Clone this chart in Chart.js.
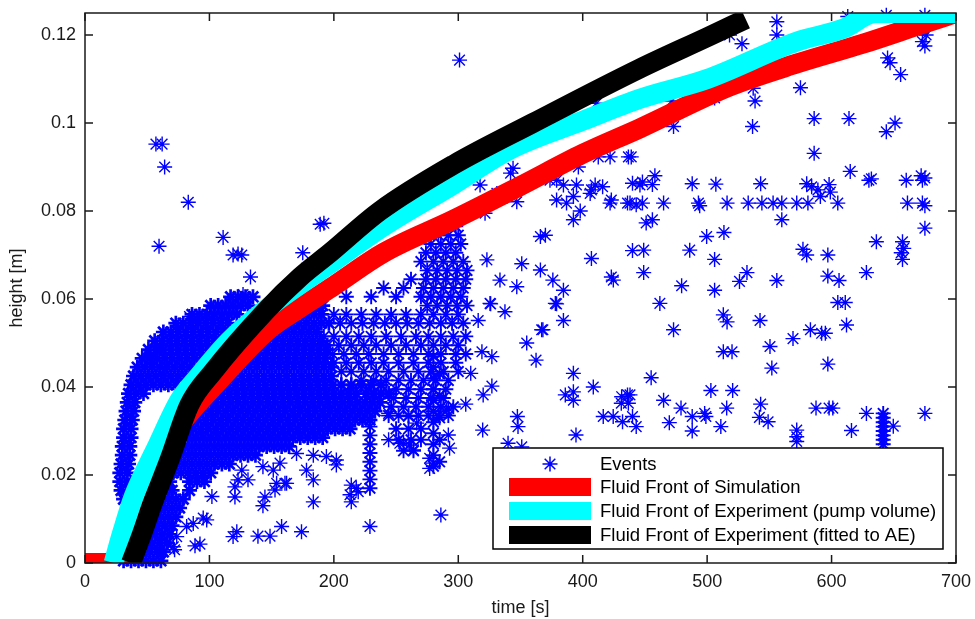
<!DOCTYPE html>
<html>
<head>
<meta charset="utf-8">
<title>Fluid front and events</title>
<script src="https://cdn.jsdelivr.net/npm/chart.js@4.4.1/dist/chart.umd.min.js"></script>
<style>
    html, body { margin: 0; padding: 0; background: #fff; }
    #plot { display: block; }
</style>
</head>
<body>
<canvas id="plot" width="975" height="619"></canvas>
<script>
"use strict";

var xTicks = [0, 100, 200, 300, 400, 500, 600, 700];
var yTicks = [0, 0.02, 0.04, 0.06, 0.08, 0.1, 0.12];
var yTickLabels = ['0', '0.02', '0.04', '0.06', '0.08', '0.1', '0.12'];

var seriesNames = [
    'Events',
    'Fluid Front of Simulation',
    'Fluid Front of Experiment (pump volume)',
    'Fluid Front of Experiment (fitted to AE)'
];

// fluid fronts: time [s] / height [m]
var simTime    = [0, 25, 35, 50, 70, 90, 103, 146, 173, 200, 240, 296, 350, 400, 446, 518, 572, 625, 673, 700];
var simHeight  = [0, 0, 0.008, 0.019, 0.029, 0.036, 0.040, 0.0527, 0.058, 0.063, 0.0705, 0.078, 0.0857, 0.093, 0.0988, 0.1083, 0.1135, 0.118, 0.1225, 0.125];
var pumpTime   = [23, 30, 39, 58, 76, 90, 116, 146, 197, 240, 296, 342, 400, 446, 500, 572, 610, 635, 700];
var pumpHeight = [0, 0.007, 0.015, 0.0265, 0.037, 0.042, 0.0505, 0.0578, 0.068, 0.0765, 0.086, 0.094, 0.1005, 0.1055, 0.110, 0.1185, 0.1215, 0.125, 0.125];
var aeTime     = [37, 45, 55, 68, 84, 103, 146, 173, 197, 237, 296, 360, 446, 500, 531];
var aeHeight   = [0, 0.006, 0.014, 0.0235, 0.036, 0.0435, 0.0575, 0.065, 0.0705, 0.080, 0.0905, 0.100, 0.1124, 0.1195, 0.1236];

// AE events, dense part: [height, times...]
var coreRows = [
    [0.0005, 31, 37, 43, 49, 55, 61],
    [0.0025, 33, 46, 52, 58, 63],
    [0.0045, 48, 54, 60, 66],
    [0.0065, 50, 56, 62, 68],
    [0.0085, 52, 58, 64, 70],
    [0.0105, 55, 61, 67, 73],
    [0.0125, 58, 64, 70, 76],
    [0.0145, 31, 61, 67, 73, 79],
    [0.0165, 29, 35, 64, 70, 84],
    [0.0185, 28, 34, 68, 84, 90, 96],
    [0.0205, 28, 34, 71, 77, 83, 89, 95, 101],
    [0.0225, 29, 35, 74, 80, 86, 92, 98, 104, 110, 116],
    [0.0245, 30, 36, 77, 83, 89, 95, 101, 107, 113, 119, 125, 131, 137],
    [0.0265, 30, 36, 80, 86, 92, 98, 104, 110, 116, 122, 128, 134, 140, 146, 152, 158, 164],
    [0.0285, 31, 37, 83, 89, 95, 101, 107, 113, 119, 125, 131, 137, 143, 149, 155, 161, 167, 173, 179, 185, 191],
    [0.0305, 31, 37, 87, 93, 99, 105, 111, 117, 123, 129, 135, 141, 147, 153, 159, 165, 171, 177, 183, 189, 195, 201, 207, 213],
    [0.0325, 32, 38, 91, 97, 103, 109, 115, 121, 127, 133, 139, 145, 151, 157, 163, 169, 175, 181, 187, 193, 199, 205, 211, 217, 223, 229],
    [0.0345, 33, 39, 95, 101, 107, 113, 119, 125, 131, 137, 143, 149, 155, 161, 167, 173, 179, 185, 191, 197, 203, 209, 215, 221, 227, 233],
    [0.0365, 34, 40, 99, 105, 111, 117, 123, 129, 135, 141, 147, 153, 159, 165, 171, 177, 183, 189, 195, 201, 207, 213, 219, 225, 231, 237],
    [0.0385, 35, 41, 47, 104, 110, 116, 122, 128, 134, 140, 146, 152, 158, 164, 170, 176, 182, 188, 194, 200, 206, 212, 218, 226, 232, 238, 244],
    [0.0405, 37, 43, 49, 55, 61, 67, 73, 109, 115, 121, 127, 133, 139, 145, 151, 157, 163, 169, 175, 181, 187, 193, 199, 206, 214, 222, 230, 238],
    [0.0425, 39, 45, 51, 57, 63, 69, 75, 81, 114, 120, 126, 132, 138, 144, 150, 156, 162, 168, 174, 180, 186, 192, 198],
    [0.0445, 42, 48, 54, 60, 66, 72, 78, 84, 120, 126, 132, 138, 144, 150, 156, 162, 168, 174, 180, 186, 192, 198],
    [0.0465, 46, 52, 58, 64, 70, 76, 82, 88, 94, 127, 133, 139, 145, 151, 157, 163, 169, 175, 181, 187, 193],
    [0.0485, 51, 57, 63, 69, 75, 81, 87, 93, 99, 134, 140, 146, 152, 158, 164, 170, 176, 182, 188, 194],
    [0.0505, 56, 62, 68, 74, 80, 86, 92, 98, 104, 141, 147, 153, 159, 165, 171, 177, 183, 189],
    [0.0525, 63, 69, 75, 81, 87, 93, 99, 105, 111, 150, 156, 162, 168, 174, 180, 186],
    [0.0545, 73, 79, 85, 91, 97, 103, 109, 115, 160, 166, 172, 178, 184, 190, 196],
    [0.0565, 86, 92, 98, 104, 110, 116, 122, 172, 178, 184, 190],
    [0.0585, 101, 107, 113, 119, 125, 131, 185, 191],
    [0.0605, 117, 123, 129, 135]
];

// looser part of the cloud between 200 s and 310 s: [height, times...]
var midRows = [
    [0.0255, 256, 264],
    [0.0280, 252, 262, 270],
    [0.0305, 250, 260, 270],
    [0.0335, 244, 252, 260, 268, 276, 284, 292],
    [0.0355, 246, 256, 266, 276, 286, 296],
    [0.0375, 248, 258, 268, 278, 288],
    [0.0395, 250, 260, 270, 280, 290],
    [0.0415, 222, 232, 242, 252, 262, 272, 282, 292],
    [0.0435, 206, 214, 224, 234, 244, 256, 268, 278, 288, 300],
    [0.0455, 200, 210, 220, 230, 240, 252, 264, 276, 286, 298],
    [0.0475, 199, 208, 218, 228, 240, 252, 264, 276, 286, 298, 306],
    [0.0495, 195, 204, 214, 224, 234, 246, 258, 270, 280, 290, 300],
    [0.0515, 192, 200, 210, 220, 230, 242, 254, 266, 276, 286, 296, 306],
    [0.0545, 205, 214, 223, 232, 241, 250, 259, 268, 277, 286, 295, 304],
    [0.0565, 200, 210, 222, 234, 246, 258, 270, 280, 290, 300],
    [0.0585, 275, 283, 291, 299, 307],
    [0.0605, 210, 230, 250, 270, 278, 286, 294, 302],
    [0.0625, 240, 256, 272, 280, 288, 296, 304],
    [0.0645, 262, 274, 282, 290, 298, 306],
    [0.0665, 275, 283, 291, 299, 307],
    [0.0685, 270, 280, 288, 296, 304],
    [0.0705, 274, 282, 290, 298],
    [0.0725, 278, 286, 294, 302],
    [0.0745, 284, 292, 300],
    [0.0765, 290, 298]
];

// stacked events at one time: [time, heights...]
var columns = [
    [229, 0.017, 0.019, 0.021, 0.023, 0.025, 0.027, 0.029, 0.031],
    [280, 0.022, 0.0245, 0.027, 0.0295, 0.032, 0.0345, 0.037, 0.0395, 0.042, 0.0445, 0.047],
    [285, 0.023, 0.028, 0.033, 0.038, 0.043],
    [641.5, 0.027, 0.028, 0.029, 0.030, 0.031, 0.032, 0.033, 0.034]
];

// single events: [time, height]
var upperLeftEvents = [
    [57, 0.0952], [62, 0.0952], [64, 0.0900], [83, 0.0820], [59.5, 0.0720], [111, 0.0740],
    [119, 0.0700], [123, 0.0702], [126, 0.0700], [189, 0.0770], [192, 0.0772], [175, 0.0705],
    [178, 0.0670], [133, 0.0650], [127, 0.0610], [84, 0.0560], [97, 0.0560], [60, 0.0490],
    [52, 0.0470], [64, 0.0440]
];

var lowEvents = [
    [229, 0.0083], [183.5, 0.0139], [286, 0.0109], [214, 0.0139], [214, 0.0177], [219.6, 0.0162],
    [174, 0.0071], [158, 0.0083], [139, 0.0061], [148.7, 0.0061], [119, 0.0060], [122, 0.0071],
    [88.4, 0.0039], [92.4, 0.0043], [72, 0.0030], [120.5, 0.0150], [120.5, 0.0173], [143, 0.0130],
    [144.6, 0.0150], [152.7, 0.0166], [154, 0.0181], [160.7, 0.0181], [183.5, 0.0189], [178, 0.0211],
    [123, 0.0189], [131, 0.0189], [126, 0.0211], [102, 0.0151], [95, 0.0102], [97.8, 0.0098],
    [81.7, 0.0083], [87, 0.0090], [73.7, 0.0060], [71, 0.0037], [244, 0.0280], [253, 0.0272],
    [261, 0.0268], [277, 0.0238], [280, 0.0227], [277, 0.0215], [244, 0.0340], [260, 0.0333],
    [266.6, 0.0318], [256, 0.0272], [264, 0.0257], [213, 0.0155], [218, 0.0170], [194, 0.0242],
    [202, 0.0234], [202, 0.0223], [170, 0.0249], [183.5, 0.0245], [143, 0.0219], [151.3, 0.0211],
    [156.7, 0.0227], [162, 0.0181]
];

var midEvents = [
    [379, 0.0589], [384.5, 0.0551], [368, 0.0530], [355, 0.0500], [362.5, 0.0461], [326, 0.0589],
    [337.5, 0.0571], [316, 0.0551], [319, 0.0480], [327, 0.0469], [310, 0.0431], [327, 0.0402],
    [320, 0.0382], [306, 0.0361], [292, 0.0352], [392.5, 0.0431], [408.5, 0.0400], [386, 0.0382],
    [392.5, 0.0389], [392.5, 0.0370], [436, 0.0382], [431, 0.0363], [432, 0.0321], [416.5, 0.0333],
    [424.5, 0.0333], [347.5, 0.0333], [348, 0.0310], [319.6, 0.0302], [394.6, 0.0291], [292, 0.0291],
    [293, 0.0261], [340, 0.0272], [351, 0.0264], [323, 0.0689], [351, 0.0680], [333.5, 0.0643],
    [347, 0.0628], [366, 0.0666], [376, 0.0643], [384.5, 0.0620], [407, 0.0692], [423, 0.0650],
    [424.6, 0.0643], [325.5, 0.0590], [367, 0.0530], [378, 0.0590], [290.7, 0.0348], [436.7, 0.0363],
    [431.3, 0.0378], [379, 0.0870], [379, 0.0825], [392.5, 0.0833], [398, 0.0800], [422, 0.0818],
    [436, 0.0818], [407, 0.0848], [416, 0.0855], [370, 0.0745], [366, 0.0742], [392.5, 0.0780],
    [321.5, 0.0795], [347, 0.0821], [331, 0.0840], [339, 0.0833], [411, 0.1045], [412.5, 0.0923],
    [422, 0.0923], [436.7, 0.0923], [396.5, 0.0900], [373.7, 0.0870], [384.5, 0.0859], [395, 0.0859],
    [410, 0.0859], [387, 0.0818], [406, 0.0840], [423, 0.0825], [443, 0.0814], [317.5, 0.0859],
    [344, 0.0897], [342, 0.0886], [301, 0.1143], [440, 0.0710]
];

var rightEvents = [
    [556, 0.1230], [556, 0.1200], [518, 0.1200], [528, 0.1180], [613, 0.1242], [644, 0.1245],
    [675, 0.1245], [674, 0.1215], [676, 0.1200], [673, 0.1185], [675, 0.1175], [645, 0.1148],
    [647, 0.1137], [655.5, 0.1110], [575, 0.1080], [537, 0.1079], [538.5, 0.1050], [506, 0.1057],
    [471.5, 0.1050], [473, 0.0992], [536.5, 0.0992], [586, 0.1010], [614, 0.1010], [644, 0.0980],
    [651, 0.1000], [586, 0.0931], [439, 0.0923], [615, 0.0890], [630, 0.0870], [632, 0.0873],
    [672, 0.0880], [673, 0.0870], [660, 0.0870], [675, 0.0875], [440, 0.0863], [446, 0.0859],
    [448, 0.0866], [456, 0.0860], [458, 0.0880], [488, 0.0862], [507, 0.0861], [543, 0.0862],
    [580, 0.0862], [584, 0.0855], [598, 0.0860], [589, 0.0848], [599, 0.0843], [591, 0.0833],
    [438, 0.0818], [448, 0.0818], [465, 0.0818], [493, 0.0818], [494, 0.0812], [516, 0.0818],
    [533, 0.0818], [544, 0.0818], [553, 0.0818], [560, 0.0818], [572, 0.0818], [581, 0.0818],
    [605, 0.0818], [661, 0.0818], [673, 0.0818], [675, 0.0812], [560, 0.0780], [451, 0.0773],
    [456, 0.0780], [675, 0.0761], [499.6, 0.0742], [513.5, 0.0751], [636, 0.0730], [657, 0.0730],
    [658, 0.0715], [656, 0.0705], [657, 0.0690], [449, 0.0711], [486, 0.0711], [577, 0.0713],
    [580, 0.0700], [597, 0.0700], [506, 0.0690], [449, 0.0660], [532, 0.0660], [526, 0.0640],
    [479.5, 0.0630], [506, 0.0620], [556, 0.0642], [597, 0.0652], [606, 0.0642], [628, 0.0660],
    [462, 0.0590], [605, 0.0592], [611, 0.0592], [513, 0.0564], [516, 0.0548], [473, 0.0530],
    [542.5, 0.0551], [612, 0.0541], [583, 0.0530], [592, 0.0522], [595, 0.0522], [569, 0.0510],
    [550.5, 0.0492], [513, 0.0480], [520, 0.0480], [552, 0.0443], [597, 0.0452], [455, 0.0421],
    [438, 0.0382], [503, 0.0392], [520.5, 0.0392], [465, 0.0370], [479, 0.0352], [488, 0.0333],
    [488, 0.0300], [498, 0.0340], [499, 0.0333], [515.7, 0.0352], [511, 0.0310], [543, 0.0361],
    [542, 0.0331], [549, 0.0321], [440, 0.0333], [443, 0.0310], [469.6, 0.0319], [587.5, 0.0352],
    [598, 0.0352], [601, 0.0352], [572, 0.0302], [572, 0.0287], [572, 0.0276], [616, 0.0301],
    [628, 0.0340], [649.6, 0.0311], [675, 0.0340]
];

function toPoints(times, heights) {
    return times.map(function (t, i) { return { x: t, y: heights[i] }; });
}

function rowsToPoints(rows) {
    var pts = [];
    rows.forEach(function (row) {
        for (var i = 1; i < row.length; i++) pts.push({ x: row[i], y: row[0] });
    });
    return pts;
}

// overlapping events are stroked heavier so the cloud reads as one mass
var coreEvents = rowsToPoints(coreRows);
var midEventsGrid = rowsToPoints(midRows);
columns.forEach(function (col) {
    for (var i = 1; i < col.length; i++) midEventsGrid.push({ x: col[0], y: col[i] });
});
var looseEvents = upperLeftEvents.concat(lowEvents, midEvents, rightEvents).map(function (p) {
    return { x: p[0], y: p[1] };
});

var FONT = '"Liberation Sans", Arial, Helvetica, sans-serif';
var BLUE = 'rgb(0,0,255)';
var lineColors = ['#ff0000', '#00ffff', '#000000'];

function frontLine(points, color) {
    return {
        type: 'line',
        data: points,
        borderColor: color,
        backgroundColor: color,
        borderWidth: 20,
        borderCapStyle: 'butt',
        borderJoinStyle: 'round',
        cubicInterpolationMode: 'monotone',
        pointRadius: 0,
        fill: false,
        clip: 0
    };
}

function eventSet(points, width) {
    return {
        type: 'scatter',
        data: points,
        pointStyle: 'star',
        pointRadius: 7.5,
        pointHoverRadius: 7.5,
        pointBorderWidth: width,
        pointBorderColor: BLUE,
        pointBackgroundColor: BLUE,
        clip: false
    };
}

// box, inward ticks and the legend, drawn over the data
var framePlugin = {
    id: 'frame',
    afterDatasetsDraw: function (chart) {
        var ctx = chart.ctx, a = chart.chartArea;
        var xs = chart.scales.x, ys = chart.scales.y;
        ctx.save();
        ctx.strokeStyle = '#1a1a1a';
        ctx.lineWidth = 1.5;
        ctx.strokeRect(a.left, a.top, a.right - a.left, a.bottom - a.top);
        ctx.beginPath();
        xTicks.forEach(function (v) {
            var p = xs.getPixelForValue(v);
            ctx.moveTo(p, a.bottom); ctx.lineTo(p, a.bottom - 8);
            ctx.moveTo(p, a.top); ctx.lineTo(p, a.top + 8);
        });
        yTicks.forEach(function (v) {
            var p = ys.getPixelForValue(v);
            ctx.moveTo(a.left, p); ctx.lineTo(a.left + 8, p);
            ctx.moveTo(a.right, p); ctx.lineTo(a.right - 8, p);
        });
        ctx.stroke();

        // legend box
        var left = a.right - 463, top = a.bottom - 115, w = 450, h = 101;
        ctx.fillStyle = '#fff';
        ctx.fillRect(left, top, w, h);
        ctx.strokeStyle = '#000';
        ctx.lineWidth = 1.5;
        ctx.strokeRect(left, top, w, h);
        var rowY = [top + 16, top + 39, top + 63, top + 87];
        ctx.strokeStyle = BLUE;
        ctx.fillStyle = BLUE;
        Chart.helpers.drawPoint(ctx, { pointStyle: 'star', radius: 7.5, borderWidth: 1.3 }, left + 57, rowY[0]);
        for (var i = 0; i < 3; i++) {
            ctx.fillStyle = lineColors[i];
            ctx.fillRect(left + 16, rowY[i + 1] - 9, 82, 18);
        }
        ctx.fillStyle = '#000';
        ctx.font = '18.5px ' + FONT;
        ctx.textBaseline = 'middle';
        ctx.textAlign = 'left';
        seriesNames.forEach(function (name, i) {
            ctx.fillText(name, left + 107, rowY[i] + 1);
        });
        ctx.restore();
    }
};

var ctx = document.getElementById('plot').getContext('2d');
var chart = new Chart(ctx, {
    type: 'scatter',
    data: {
        datasets: [
            frontLine(toPoints(aeTime, aeHeight), lineColors[2]),
            frontLine(toPoints(pumpTime, pumpHeight), lineColors[1]),
            frontLine(toPoints(simTime, simHeight), lineColors[0]),
            eventSet(looseEvents, 1.4),
            eventSet(midEventsGrid, 1.9),
            eventSet(coreEvents, 2.7)
        ]
    },
    options: {
        responsive: false,
        animation: false,
        events: [],
        devicePixelRatio: 1,
        layout: { padding: { left: 0, top: 13, right: 19, bottom: 0 } },
        plugins: {
            legend: { display: false },
            tooltip: { enabled: false }
        },
        scales: {
            x: {
                type: 'linear',
                min: 0,
                max: 700,
                grid: { display: false, drawTicks: false },
                border: { display: false },
                afterBuildTicks: function (scale) {
                    scale.ticks = xTicks.map(function (v) { return { value: v }; });
                },
                afterFit: function (scale) {
                    scale.height = 56;
                    scale.paddingLeft = 0;
                    scale.paddingRight = 0;
                },
                ticks: {
                    padding: 8,
                    color: '#1a1a1a',
                    font: { family: FONT, size: 18 },
                    maxRotation: 0,
                    callback: function (v) { return String(v); }
                },
                title: {
                    display: true,
                    text: 'time [s]',
                    color: '#1a1a1a',
                    font: { family: FONT, size: 18 },
                    padding: { top: 0, bottom: 0 }
                }
            },
            y: {
                type: 'linear',
                min: 0,
                max: 0.125,
                grid: { display: false, drawTicks: false },
                border: { display: false },
                afterBuildTicks: function (scale) {
                    scale.ticks = yTicks.map(function (v) { return { value: v }; });
                },
                afterFit: function (scale) {
                    scale.width = 85;
                    scale.paddingTop = 0;
                    scale.paddingBottom = 0;
                },
                ticks: {
                    padding: 9,
                    color: '#1a1a1a',
                    font: { family: FONT, size: 18 },
                    callback: function (v, i) { return yTickLabels[i]; }
                },
                title: {
                    display: true,
                    text: 'height [m]',
                    color: '#1a1a1a',
                    font: { family: FONT, size: 18 },
                    padding: { top: 6, bottom: 0 }
                }
            }
        }
    },
    plugins: [framePlugin]
});
</script>
</body>
</html>
